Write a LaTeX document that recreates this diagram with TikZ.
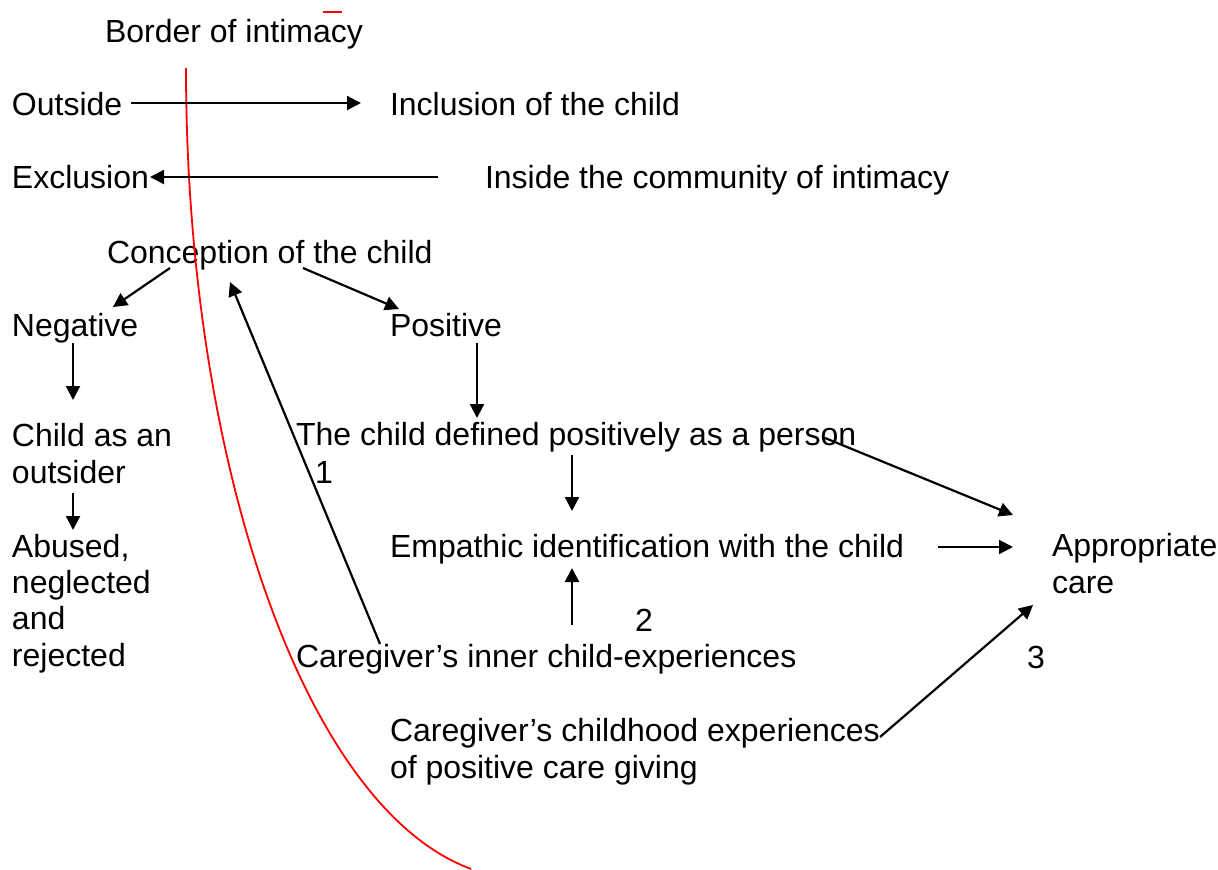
\documentclass[tikz,border=0pt]{standalone}
\usepackage{fontspec}
\setmainfont{Liberation Sans}
\usetikzlibrary{arrows.meta,calc}
\begin{document}
\begin{tikzpicture}[x=1pt,y=-1pt,
  lbl/.style={inner sep=0pt, outer sep=0pt, anchor=base west, align=left,
    font=\fontsize{32}{36.3}\selectfont},
  conn/.style={line width=2.2pt, -{Triangle[length=14pt,width=14pt]}},
  border/.style={red, line width=1.8pt}]
\useasboundingbox (0,0) rectangle (1218,870);
% nodes (multi-line nodes are placed at the baseline of their last line)
\node[lbl] (border) at (105,42) {Border of intimacy};
\node[lbl] (outside) at (12,115) {Outside};
\node[lbl] (inclusion) at (390,115) {Inclusion of the child};
\node[lbl] (exclusion) at (12,188) {Exclusion};
\node[lbl] (inside) at (485,188) {Inside the community of intimacy};
\node[lbl] (conception) at (107,263) {Conception of the child};
\node[lbl] (negative) at (12,336) {Negative};
\node[lbl] (positive) at (390,336) {Positive};
\node[lbl] (childout) at (12,483) {Child as an\\outsider};
\node[lbl] (defined) at (296,445) {The child defined positively as a person};
\node[lbl] (one) at (315,483) {1};
\node[lbl] (abused) at (12,666) {Abused,\\neglected\\and\\rejected};
\node[lbl] (empathic) at (390,557) {Empathic identification with the child};
\node[lbl] (appropriate) at (1052,593) {Appropriate\\care};
\node[lbl] (two) at (635,631) {2};
\node[lbl] (caregiver) at (296,667) {Caregiver’s inner child-experiences};
\node[lbl] (three) at (1027,668) {3};
\node[lbl] (childhood) at (390,778) {Caregiver’s childhood experiences\\of positive care giving};
% border of intimacy
\draw[border] ($(border.base west)+(218,-30)$) -- ($(border.base west)+(237,-30)$);
\draw[border] (186pt,-68pt) arc[start angle=180, end angle=261.45, x radius=335pt, y radius=810pt];
% connectors
\draw[conn] ($(outside.base west)+(119,-12)$) -- ($(inclusion.base west)+(-29,-12)$);
\draw[conn] ($(inside.base west)+(-47,-11)$) -- ($(exclusion.base west)+(138,-11)$);
\draw[conn] ($(conception.base west)+(63,5)$) -- ($(negative.base west)+(101,-29)$);
\draw[conn] ($(conception.base west)+(196,5)$) -- ($(positive.base west)+(9,-27)$);
\draw[conn] ($(negative.base west)+(61,7)$) -- ($(childout.base west)+(61,-83)$);
\draw[conn] ($(positive.base west)+(87,7)$) -- ($(defined.base west)+(181,-27)$);
\draw[conn] ($(childout.base west)+(61,10)$) -- ($(abused.base west)+(61,-136)$);
\draw[conn] ($(defined.base west)+(276,10)$) -- ($(empathic.base west)+(182,-46)$);
\draw[conn] ($(caregiver.base west)+(276,-42)$) -- ($(empathic.base west)+(182,11)$);
\draw[conn] ($(caregiver.base west)+(84,-23)$) -- ($(conception.base west)+(123,19)$);
\draw[conn] ($(defined.base west)+(529,-7)$) -- ($(appropriate.base west)+(-39,-78)$);
\draw[conn] ($(empathic.base west)+(548,-10)$) -- ($(appropriate.base west)+(-39,-46)$);
\draw[conn] ($(childhood.base west)+(490,-41)$) -- ($(appropriate.base west)+(-19,12)$);
\end{tikzpicture}
\end{document}
